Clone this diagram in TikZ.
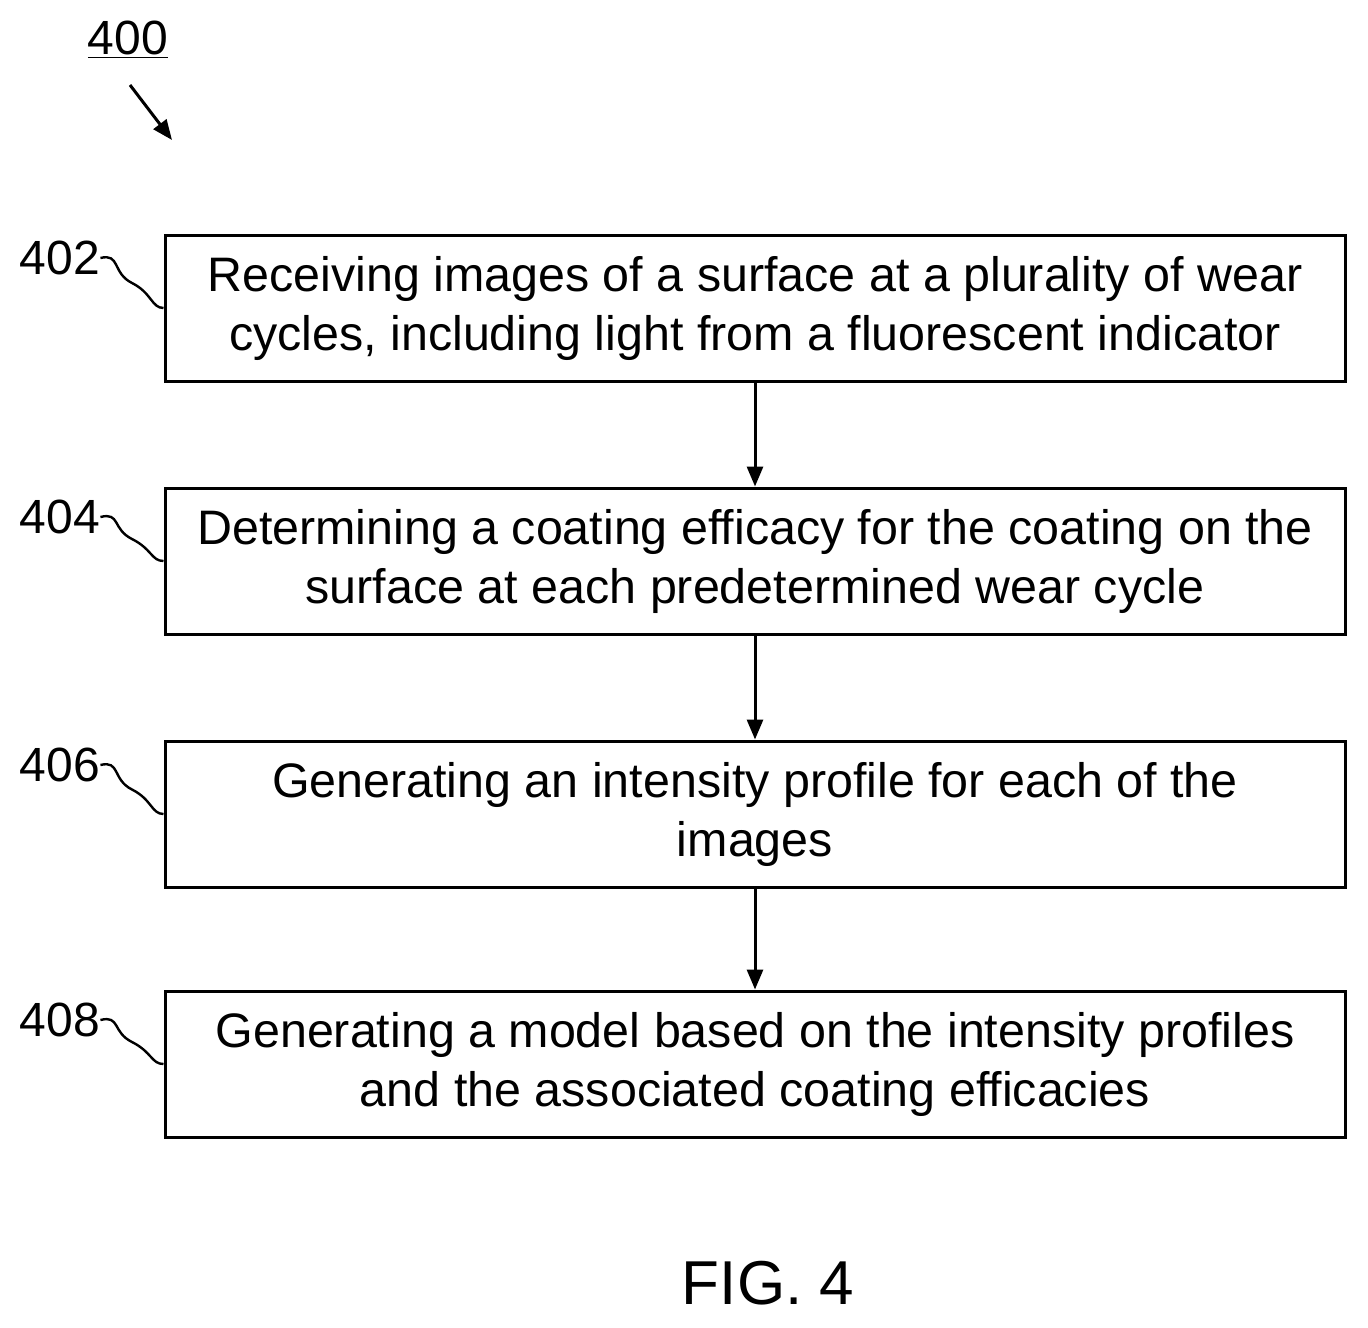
\documentclass[tikz,border=0pt]{standalone}
\usepackage{fontspec}
\setmainfont{Liberation Sans}
\usetikzlibrary{arrows.meta,calc}
\begin{document}
\begin{tikzpicture}[x=0.5pt,y=-0.5pt,
  box/.style={draw,line width=1.5pt,minimum width=590pt,minimum height=73pt,align=center,font=\fontsize{24.2}{29.5}\selectfont,inner sep=0pt},
  lab/.style={font=\fontsize{24}{26}\selectfont,inner sep=0pt},
  arr/.style={line width=1.5pt,-{Triangle[length=10pt,width=8pt]}},
  sq/.style={line width=1.2pt}]
\useasboundingbox (0,0) rectangle (1368,1327);
\node[box] (b1) at (755,308) {Receiving images of a surface at a plurality of wear\\cycles, including light from a fluorescent indicator};
\node[box] (b2) at (755,561) {Determining a coating efficacy for the coating on the\\surface at each predetermined wear cycle};
\node[box] (b3) at (755,814) {Generating an intensity profile for each of the\\images};
\node[box] (b4) at (755,1064) {Generating a model based on the intensity profiles\\and the associated coating efficacies};
\draw[arr] (b1) -- (b2);
\draw[arr] (b2) -- (b3);
\draw[arr] (b3) -- (b4);
\foreach \n/\t/\y in {l1/402/258,l2/404/517,l3/406/765,l4/408/1020}{
  \node[lab] (\n) at (60,\y) {\t};
}
\foreach \n/\b in {l1/b1,l2/b2,l3/b3,l4/b4}{
  \draw[sq] (\n.east) .. controls ++(20,-5) and ++(-20,-10) .. ($(\n.east)!0.5!(\b.west)$) .. controls ++(20,10) and ++(-12,0) .. (\b.west);
}
\node[lab] (t400) at (128,40) {\underline{400}};
\coordinate (a0) at (130,85);
\coordinate (a1) at (172,140);
\draw[arr] (a0) -- (a1);
\node[font=\fontsize{31}{34}\selectfont,inner sep=0pt] (fig) at (768,1283) {FIG. 4};
\end{tikzpicture}
\end{document}
